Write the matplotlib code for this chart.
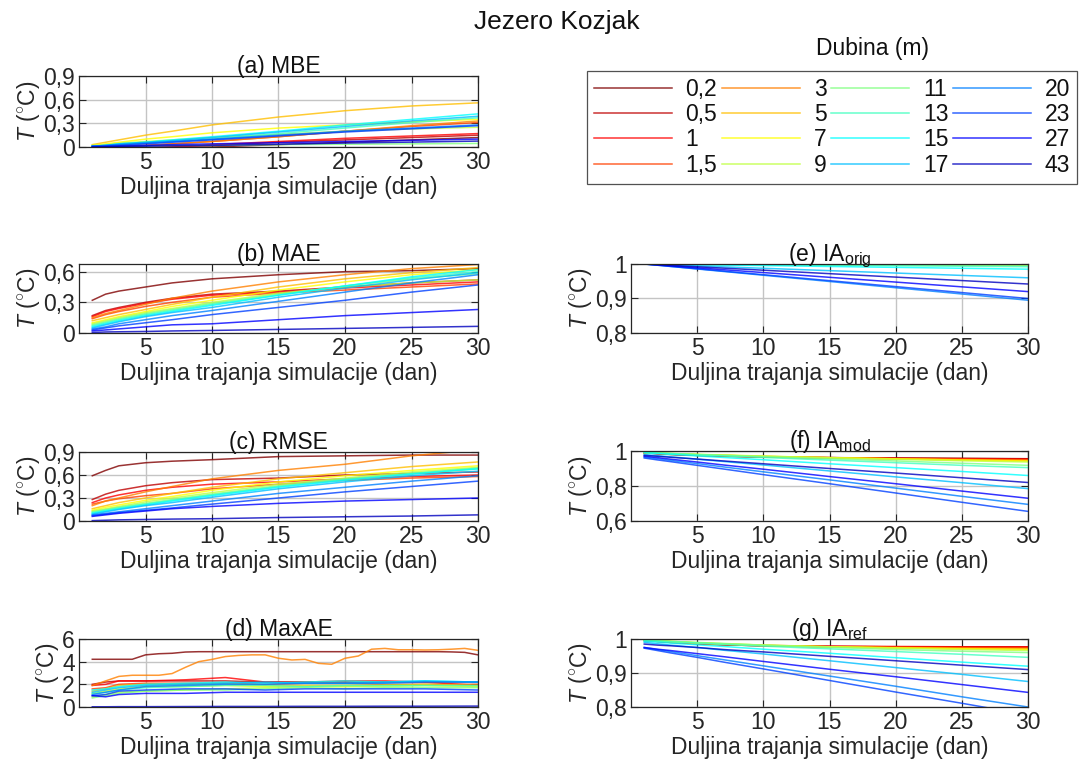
import matplotlib
matplotlib.use('Agg')
import matplotlib.pyplot as plt
from matplotlib.ticker import FuncFormatter
from matplotlib.lines import Line2D

plt.rcParams['font.family'] = ['Liberation Sans', 'DejaVu Sans']
plt.rcParams['mathtext.fontset'] = 'custom'
plt.rcParams['mathtext.rm'] = 'Liberation Sans'
plt.rcParams['mathtext.it'] = 'Liberation Sans:italic'
plt.rcParams['mathtext.bf'] = 'Liberation Sans:bold'

# ---------------- data ----------------
depths = ['0,2', '0,5', '1', '1,5', '3', '5', '7', '9',
          '11', '13', '15', '17', '20', '23', '27', '43']
colors = [(0.5, 0, 0), (0.75, 0, 0), (1, 0, 0), (1, 0.25, 0), (1, 0.5, 0),
          (1, 0.75, 0), (1, 1, 0), (0.75, 1, 0.25), (0.5, 1, 0.5),
          (0.25, 1, 0.75), (0, 1, 1), (0, 0.75, 1), (0, 0.5, 1),
          (0, 0.25, 1), (0, 0, 1), (0, 0, 0.75)]

days = [1, 2, 3, 5, 7, 10, 15, 20, 25, 30]

mbe = [
    [-0.05, -0.04, -0.03, -0.02, -0.01, 0.0, 0.03, 0.06, 0.09, 0.12],
    [-0.04, -0.03, -0.02, -0.01, 0.0, 0.02, 0.06, 0.09, 0.12, 0.15],
    [-0.03, -0.02, -0.02, -0.01, 0.0, 0.03, 0.07, 0.11, 0.14, 0.17],
    [-0.01, 0.0, 0.01, 0.02, 0.04, 0.07, 0.13, 0.20, 0.26, 0.31],
    [0.0, 0.01, 0.01, 0.02, 0.04, 0.07, 0.13, 0.20, 0.27, 0.33],
    [0.03, 0.06, 0.09, 0.15, 0.20, 0.28, 0.38, 0.46, 0.52, 0.56],
    [0.02, 0.04, 0.06, 0.10, 0.13, 0.18, 0.24, 0.28, 0.32, 0.35],
    [0.02, 0.03, 0.05, 0.07, 0.09, 0.12, 0.16, 0.20, 0.23, 0.25],
    [0.0, 0.005, 0.01, 0.015, 0.02, 0.02, 0.03, 0.035, 0.04, 0.045],
    [0.01, 0.02, 0.03, 0.05, 0.07, 0.10, 0.17, 0.24, 0.31, 0.37],
    [0.01, 0.02, 0.04, 0.06, 0.09, 0.13, 0.20, 0.28, 0.35, 0.42],
    [0.01, 0.02, 0.04, 0.06, 0.08, 0.12, 0.19, 0.26, 0.33, 0.39],
    [0.01, 0.02, 0.03, 0.05, 0.07, 0.10, 0.15, 0.20, 0.24, 0.28],
    [0.01, 0.015, 0.02, 0.04, 0.06, 0.09, 0.14, 0.19, 0.23, 0.27],
    [0.0, 0.005, 0.01, 0.02, 0.03, 0.04, 0.055, 0.07, 0.085, 0.10],
    [0.0, 0.003, 0.006, 0.01, 0.015, 0.02, 0.035, 0.05, 0.062, 0.075],
]

mae = [
    [0.32, 0.38, 0.41, 0.45, 0.49, 0.53, 0.57, 0.60, 0.61, 0.63],
    [0.17, 0.22, 0.25, 0.30, 0.34, 0.38, 0.41, 0.45, 0.49, 0.52],
    [0.16, 0.21, 0.24, 0.29, 0.33, 0.37, 0.40, 0.44, 0.47, 0.50],
    [0.14, 0.18, 0.21, 0.26, 0.30, 0.35, 0.39, 0.42, 0.45, 0.48],
    [0.15, 0.19, 0.22, 0.28, 0.34, 0.41, 0.50, 0.57, 0.63, 0.67],
    [0.12, 0.15, 0.18, 0.23, 0.28, 0.35, 0.45, 0.53, 0.59, 0.64],
    [0.10, 0.13, 0.16, 0.21, 0.26, 0.32, 0.42, 0.50, 0.57, 0.62],
    [0.09, 0.12, 0.15, 0.20, 0.24, 0.30, 0.39, 0.45, 0.49, 0.52],
    [0.08, 0.11, 0.14, 0.19, 0.23, 0.29, 0.38, 0.46, 0.53, 0.58],
    [0.07, 0.10, 0.13, 0.18, 0.22, 0.28, 0.37, 0.46, 0.54, 0.60],
    [0.06, 0.09, 0.12, 0.17, 0.21, 0.27, 0.37, 0.46, 0.55, 0.62],
    [0.05, 0.08, 0.11, 0.16, 0.20, 0.25, 0.35, 0.44, 0.52, 0.59],
    [0.04, 0.06, 0.09, 0.13, 0.17, 0.22, 0.31, 0.40, 0.49, 0.57],
    [0.03, 0.05, 0.07, 0.10, 0.13, 0.18, 0.25, 0.32, 0.40, 0.47],
    [0.02, 0.03, 0.04, 0.06, 0.08, 0.09, 0.13, 0.17, 0.20, 0.23],
    [0.005, 0.01, 0.012, 0.015, 0.02, 0.025, 0.035, 0.045, 0.055, 0.065],
]

rmse = [
    [0.59, 0.66, 0.72, 0.76, 0.78, 0.80, 0.84, 0.85, 0.86, 0.86],
    [0.28, 0.35, 0.40, 0.46, 0.50, 0.54, 0.56, 0.60, 0.62, 0.64],
    [0.24, 0.30, 0.34, 0.40, 0.44, 0.48, 0.51, 0.55, 0.58, 0.60],
    [0.22, 0.26, 0.29, 0.33, 0.36, 0.42, 0.48, 0.53, 0.56, 0.58],
    [0.20, 0.26, 0.30, 0.38, 0.45, 0.55, 0.66, 0.74, 0.85, 0.93],
    [0.16, 0.20, 0.24, 0.30, 0.36, 0.44, 0.55, 0.63, 0.71, 0.77],
    [0.14, 0.18, 0.21, 0.27, 0.32, 0.40, 0.51, 0.59, 0.66, 0.72],
    [0.13, 0.16, 0.19, 0.25, 0.30, 0.37, 0.48, 0.56, 0.64, 0.70],
    [0.12, 0.15, 0.18, 0.23, 0.28, 0.35, 0.46, 0.55, 0.62, 0.68],
    [0.11, 0.14, 0.17, 0.22, 0.27, 0.34, 0.45, 0.54, 0.62, 0.69],
    [0.10, 0.13, 0.16, 0.21, 0.26, 0.33, 0.44, 0.53, 0.61, 0.68],
    [0.09, 0.12, 0.15, 0.20, 0.24, 0.31, 0.42, 0.51, 0.59, 0.65],
    [0.08, 0.10, 0.12, 0.16, 0.20, 0.26, 0.36, 0.44, 0.52, 0.59],
    [0.07, 0.09, 0.11, 0.14, 0.17, 0.22, 0.30, 0.38, 0.45, 0.52],
    [0.06, 0.08, 0.10, 0.13, 0.16, 0.19, 0.23, 0.26, 0.28, 0.30],
    [0.005, 0.01, 0.015, 0.02, 0.025, 0.03, 0.045, 0.055, 0.065, 0.08],
]

# MaxAE: two top series read day by day, the rest on a coarser grid
maxae_days_full = list(range(1, 31))
maxae_02 = [4.21, 4.21, 4.21, 4.21, 4.6, 4.7, 4.74, 4.85, 4.88, 4.88,
            4.88, 4.88, 4.88, 4.88, 4.88, 4.88, 4.88, 4.88, 4.88, 4.88,
            4.88, 4.88, 4.88, 4.88, 4.88, 4.88, 4.88, 4.86, 4.82, 4.6]
maxae_3 = [1.9, 2.3, 2.7, 2.8, 2.8, 2.8, 2.95, 3.5, 4.0, 4.2,
           4.45, 4.55, 4.6, 4.6, 4.3, 4.15, 4.2, 3.85, 3.77, 4.3,
           4.5, 5.1, 5.17, 5.05, 5.05, 5.03, 5.05, 5.1, 5.17, 5.0]
maxae_days = [1, 2, 3, 5, 8, 11, 14, 17, 20, 23, 26, 30]
maxae_rest = {
    '0,5': [2.0, 2.2, 2.3, 2.3, 2.3, 2.3, 2.2, 2.2, 2.2, 2.2, 2.2, 2.2],
    '1':   [1.9, 2.0, 2.3, 2.3, 2.4, 2.6, 2.2, 2.2, 2.3, 2.3, 2.2, 1.9],
    '1,5': [1.6, 1.7, 2.0, 2.1, 2.1, 2.1, 2.0, 2.1, 2.1, 2.0, 2.0, 2.0],
    '5':   [1.4, 1.6, 1.9, 2.0, 2.0, 2.1, 1.9, 1.9, 1.9, 1.9, 2.0, 1.9],
    '7':   [1.2, 1.4, 1.6, 1.8, 1.8, 1.9, 1.8, 1.8, 1.8, 1.9, 1.9, 1.8],
    '9':   [0.9, 1.1, 1.3, 1.4, 1.5, 1.6, 1.7, 1.8, 1.8, 1.8, 1.9, 1.8],
    '11':  [0.8, 1.0, 1.2, 1.4, 1.5, 1.5, 1.6, 1.7, 1.6, 1.7, 1.7, 1.7],
    '13':  [1.2, 1.3, 1.5, 1.7, 1.8, 1.9, 1.9, 1.8, 1.9, 1.9, 1.9, 1.9],
    '15':  [1.5, 1.6, 1.8, 2.0, 2.1, 2.2, 2.1, 2.2, 2.3, 2.2, 2.3, 2.2],
    '17':  [1.3, 1.5, 1.7, 1.9, 2.0, 2.1, 2.2, 2.1, 2.1, 2.2, 2.3, 2.2],
    '20':  [1.1, 1.3, 1.5, 1.8, 1.9, 2.0, 2.0, 2.1, 2.1, 2.1, 2.2, 2.2],
    '23':  [1.0, 1.1, 1.4, 1.5, 1.6, 1.6, 1.5, 1.6, 1.6, 1.6, 1.6, 1.5],
    '27':  [1.0, 0.9, 1.1, 1.2, 1.2, 1.3, 1.3, 1.3, 1.3, 1.3, 1.3, 1.3],
    '43':  [0.02, 0.02, 0.03, 0.03, 0.04, 0.05, 0.05, 0.06, 0.06, 0.07, 0.07, 0.08],
}

ia_orig = [
    [1.0, 1.0, 1.0, 1.0, 0.9998, 0.9997, 0.9995, 0.9993, 0.9992, 0.999],
    [1.0, 1.0, 1.0, 1.0, 0.9998, 0.9997, 0.9995, 0.9993, 0.9992, 0.999],
    [1.0, 1.0, 1.0, 1.0, 0.9998, 0.9997, 0.9995, 0.9993, 0.9992, 0.999],
    [1.0, 0.9999, 0.9999, 0.9997, 0.9996, 0.9994, 0.999, 0.9987, 0.9983, 0.998],
    [1.0, 0.9999, 0.9999, 0.9997, 0.9996, 0.9994, 0.999, 0.9987, 0.9983, 0.998],
    [1.0, 0.9999, 0.9999, 0.9997, 0.9996, 0.9994, 0.999, 0.9987, 0.9983, 0.998],
    [1.0, 0.9999, 0.9999, 0.9997, 0.9996, 0.9994, 0.999, 0.9987, 0.9983, 0.998],
    [1.0, 0.9999, 0.9998, 0.9996, 0.9994, 0.9991, 0.9986, 0.998, 0.9975, 0.997],
    [1.0, 0.9998, 0.9997, 0.9993, 0.999, 0.9985, 0.9976, 0.9967, 0.9959, 0.995],
    [1.0, 0.9997, 0.9994, 0.9989, 0.9983, 0.9975, 0.9961, 0.9948, 0.9934, 0.992],
    [1.0, 0.9995, 0.999, 0.9979, 0.9969, 0.9954, 0.9928, 0.9902, 0.9876, 0.985],
    [1.0, 0.9986, 0.9972, 0.9945, 0.9917, 0.9876, 0.9807, 0.9738, 0.9669, 0.96],
    [1.0, 0.9964, 0.9928, 0.9855, 0.9783, 0.9674, 0.9493, 0.9312, 0.9131, 0.895],
    [1.0, 0.9966, 0.9931, 0.9862, 0.9793, 0.969, 0.9517, 0.9345, 0.9172, 0.90],
    [1.0, 0.9972, 0.9945, 0.989, 0.9834, 0.9752, 0.9614, 0.9476, 0.9338, 0.92],
    [1.0, 0.998, 0.996, 0.992, 0.988, 0.982, 0.972, 0.962, 0.952, 0.942],
]

ia_mod = [
    [0.99, 0.985, 0.98, 0.975, 0.97, 0.965, 0.962, 0.96, 0.958, 0.956],
    [0.99, 0.985, 0.981, 0.975, 0.971, 0.966, 0.962, 0.959, 0.957, 0.955],
    [0.99, 0.986, 0.982, 0.976, 0.972, 0.967, 0.962, 0.958, 0.955, 0.953],
    [0.99, 0.986, 0.982, 0.977, 0.972, 0.966, 0.96, 0.956, 0.953, 0.95],
    [0.99, 0.987, 0.984, 0.979, 0.975, 0.969, 0.962, 0.956, 0.951, 0.947],
    [0.99, 0.987, 0.984, 0.979, 0.975, 0.969, 0.961, 0.955, 0.949, 0.944],
    [0.991, 0.988, 0.985, 0.98, 0.976, 0.97, 0.962, 0.955, 0.948, 0.942],
    [0.992, 0.989, 0.986, 0.981, 0.977, 0.971, 0.961, 0.952, 0.944, 0.937],
    [0.993, 0.99, 0.986, 0.98, 0.975, 0.968, 0.955, 0.943, 0.93, 0.918],
    [0.993, 0.989, 0.985, 0.978, 0.972, 0.963, 0.948, 0.933, 0.918, 0.905],
    [0.99, 0.985, 0.981, 0.972, 0.963, 0.95, 0.927, 0.905, 0.883, 0.86],
    [0.98, 0.973, 0.967, 0.953, 0.94, 0.92, 0.886, 0.852, 0.819, 0.785],
    [0.965, 0.956, 0.946, 0.928, 0.909, 0.881, 0.835, 0.788, 0.741, 0.695],
    [0.96, 0.949, 0.939, 0.918, 0.897, 0.865, 0.813, 0.76, 0.707, 0.655],
    [0.97, 0.962, 0.953, 0.937, 0.92, 0.896, 0.854, 0.813, 0.771, 0.73],
    [0.975, 0.97, 0.964, 0.954, 0.943, 0.927, 0.9, 0.874, 0.847, 0.82],
]

ia_ref = [
    [0.996, 0.993, 0.99, 0.986, 0.983, 0.98, 0.978, 0.977, 0.977, 0.976],
    [0.996, 0.993, 0.99, 0.986, 0.983, 0.98, 0.978, 0.977, 0.976, 0.976],
    [0.996, 0.993, 0.991, 0.987, 0.984, 0.981, 0.979, 0.978, 0.977, 0.977],
    [0.996, 0.993, 0.991, 0.987, 0.984, 0.98, 0.977, 0.976, 0.975, 0.974],
    [0.996, 0.994, 0.992, 0.988, 0.985, 0.981, 0.977, 0.975, 0.973, 0.972],
    [0.996, 0.994, 0.992, 0.988, 0.985, 0.981, 0.977, 0.974, 0.972, 0.97],
    [0.997, 0.995, 0.993, 0.989, 0.986, 0.982, 0.977, 0.974, 0.971, 0.969],
    [0.997, 0.995, 0.993, 0.989, 0.986, 0.982, 0.977, 0.973, 0.969, 0.966],
    [0.997, 0.995, 0.993, 0.99, 0.987, 0.982, 0.975, 0.969, 0.964, 0.96],
    [0.996, 0.994, 0.992, 0.988, 0.984, 0.979, 0.971, 0.963, 0.955, 0.946],
    [0.993, 0.991, 0.988, 0.983, 0.978, 0.97, 0.958, 0.945, 0.932, 0.92],
    [0.99, 0.986, 0.982, 0.975, 0.967, 0.956, 0.936, 0.916, 0.896, 0.875],
    [0.975, 0.969, 0.963, 0.951, 0.939, 0.921, 0.891, 0.861, 0.83, 0.80],
    [0.973, 0.966, 0.959, 0.946, 0.932, 0.912, 0.878, 0.844, 0.811, 0.777],
    [0.975, 0.97, 0.966, 0.957, 0.948, 0.934, 0.911, 0.889, 0.866, 0.843],
    [0.985, 0.982, 0.98, 0.975, 0.969, 0.962, 0.949, 0.936, 0.923, 0.91],
]

# ---------------- figure ----------------
W, H = 1081, 774
fig = plt.figure(figsize=(W / 100, H / 100), dpi=100)

FS = 16.5
AX_COL = '#262626'
LW = 1.1
ALPHA = 0.8


def px_axes(left, top, right, bottom):
    return fig.add_axes([left / W, 1 - bottom / H, (right - left) / W, (bottom - top) / H])


def comma(v, pos):
    s = f"{v:g}"
    return s.replace('.', ',')


def style(ax, title, ylim, yticks):
    ax.set_xlim(0, 30)
    ax.set_xticks([5, 10, 15, 20, 25, 30])
    ax.set_ylim(*ylim)
    ax.set_yticks(yticks)
    ax.yaxis.set_major_formatter(FuncFormatter(comma))
    ax.grid(True, color='#c4c4c4', lw=1.0)
    ax.set_axisbelow(True)
    ax.tick_params(direction='in', top=True, right=True, length=5, width=0.8,
                   colors=AX_COL, labelsize=FS, pad=3)
    for sp in ax.spines.values():
        sp.set_color(AX_COL)
        sp.set_linewidth(0.9)
    ax.set_title(title, fontsize=FS, color='#111111', pad=2)
    ax.set_xlabel('Duljina trajanja simulacije (dan)', fontsize=FS, color=AX_COL, labelpad=1)
    ax.set_ylabel(r'$T$ ($^{\circ}$C)', fontsize=FS, color=AX_COL, labelpad=1)


def draw(ax, data):
    for vals, c in zip(data, colors):
        ax.plot(days, vals, color=c, lw=LW, alpha=ALPHA)


LX0, LX1 = 79, 478
RX0, RX1 = 631, 1028

ax_a = px_axes(LX0, 76, LX1, 147)
draw(ax_a, mbe)
style(ax_a, '(a) MBE', (0, 0.9), [0, 0.3, 0.6, 0.9])

ax_b = px_axes(LX0, 264, LX1, 333)
draw(ax_b, mae)
style(ax_b, '(b) MAE', (0, 0.675), [0, 0.3, 0.6])

ax_c = px_axes(LX0, 452, LX1, 521)
draw(ax_c, rmse)
style(ax_c, '(c) RMSE', (0, 0.9), [0, 0.3, 0.6, 0.9])

ax_d = px_axes(LX0, 639, LX1, 707)
for name, c in zip(depths, colors):
    if name == '0,2':
        ax_d.plot(maxae_days_full, maxae_02, color=c, lw=LW, alpha=ALPHA)
    elif name == '3':
        ax_d.plot(maxae_days_full, maxae_3, color=c, lw=LW, alpha=ALPHA)
    else:
        ax_d.plot(maxae_days, maxae_rest[name], color=c, lw=LW, alpha=ALPHA)
style(ax_d, '(d) MaxAE', (0, 6), [0, 2, 4, 6])

ax_e = px_axes(RX0, 264, RX1, 333)
draw(ax_e, ia_orig)
style(ax_e, r'(e) IA$_{\mathrm{orig}}$', (0.8, 1.0), [0.8, 0.9, 1.0])

ax_f = px_axes(RX0, 451, RX1, 521)
draw(ax_f, ia_mod)
style(ax_f, r'(f) IA$_{\mathrm{mod}}$', (0.6, 1.0), [0.6, 0.8, 1.0])

ax_g = px_axes(RX0, 639, RX1, 707)
draw(ax_g, ia_ref)
style(ax_g, r'(g) IA$_{\mathrm{ref}}$', (0.8, 1.0), [0.8, 0.9, 1.0])

# legend
handles = [Line2D([], [], color=c, lw=LW, alpha=ALPHA) for c in colors]
leg = fig.legend(handles, depths, loc='upper left',
                 bbox_to_anchor=(587 / W, 1 - 71 / H, 490 / W, 0.0),
                 mode='expand', ncol=4, frameon=True, fancybox=False,
                 edgecolor=AX_COL, fontsize=FS, handlelength=3.4,
                 handletextpad=0.6, columnspacing=0.8, labelspacing=0.1,
                 borderpad=0.3, borderaxespad=0)
leg.get_frame().set_linewidth(0.9)
for t in leg.get_texts():
    t.set_color('#111111')

fig.text(873 / W, 1 - 48 / H, 'Dubina (m)', ha='center', va='center', fontsize=FS, color='#111111')
fig.text(557 / W, 1 - 22 / H, 'Jezero Kozjak', ha='center', va='center', fontsize=FS + 2.5, color='#111111')

fig.savefig('out.png', dpi=100)
